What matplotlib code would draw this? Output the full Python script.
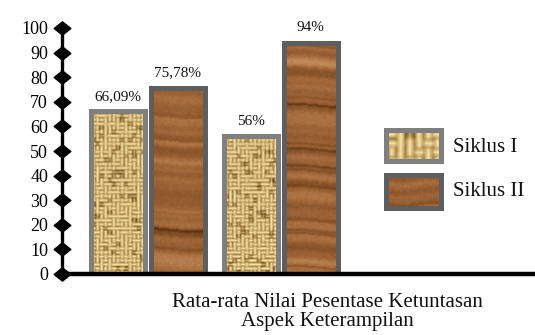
import numpy as np
import matplotlib
matplotlib.use("Agg")
import matplotlib.pyplot as plt
from matplotlib.path import Path

# ---- data ----
series_names = ["Siklus I", "Siklus II"]
siklus_1 = [66.09, 56.0]
siklus_2 = [75.78, 94.0]
y_ticks = list(range(0, 101, 10))
x_title = "Rata-rata Nilai Pesentase Ketuntasan\nAspek Keterampilan"

plt.rcParams["font.family"] = ["Liberation Serif", "DejaVu Serif"]

W, H = 535, 335
fig = plt.figure(figsize=(W / 100, H / 100), dpi=100)
fig.patch.set_facecolor("white")


def fig_box(x0, y0, x1, y1):
    """pixel box (top-left origin) -> figure fraction rect"""
    return [x0 / W, 1 - y1 / H, (x1 - x0) / W, (y1 - y0) / H]


# ---- procedural textures ----
def lerp_colors(t, stops):
    t = np.clip(t, 0, 1)
    pos = np.linspace(0, 1, len(stops))
    out = np.zeros(t.shape + (3,))
    for c in range(3):
        out[..., c] = np.interp(t, pos, [s[c] for s in stops])
    return out / 255.0


def soften(a, k=3):
    ker = np.ones(k) / k
    a = np.apply_along_axis(lambda r: np.convolve(r, ker, mode="same"), 0, a)
    a = np.apply_along_axis(lambda r: np.convolve(r, ker, mode="same"), 1, a)
    return a


def wood_texture(h, w, seed):
    rng = np.random.default_rng(seed)
    pad = 40
    n = rng.normal(size=h + pad)
    k = np.exp(-np.linspace(-2, 2, 15) ** 2)
    k /= k.sum()
    prof = np.convolve(n, k, mode="same")
    prof /= prof.std() + 1e-9
    streak = np.zeros(h + pad)
    idx = rng.choice(h + pad, size=(h + pad) // 17, replace=False)
    streak[idx] = rng.uniform(0.4, 1.0, size=len(idx))
    streak = np.convolve(streak, [0.4, 1.0, 0.4], mode="same")
    y = np.arange(h)[:, None]
    x = np.arange(w)[None, :]
    wave = 1.5 * np.sin(x / w * 2 * np.pi * rng.uniform(0.4, 1.0) + rng.uniform(0, 6))
    yy = np.clip((y + pad // 2 + wave).astype(int), 0, h + pad - 1)
    t = 0.58 + 0.12 * prof[yy] - 0.38 * streak[yy] + 0.05 * rng.normal(size=(h, w))
    t += 0.04 * np.sin(x / w * np.pi)
    t = soften(t, 2)
    stops = [(85, 45, 15), (130, 78, 36), (162, 104, 58), (192, 138, 88)]
    return lerp_colors(t, stops)


def burlap_texture(h, w, seed, cell=4):
    rng = np.random.default_rng(seed)
    nr, nc = h // cell + 2, w // cell + 2
    base = np.add.outer(np.arange(nr), np.arange(nc)) % 2
    orient = np.where(rng.random((nr, nc)) < 0.7, base, 1 - base)
    yi = np.arange(h)
    xi = np.arange(w)
    ly = (yi % cell + 0.5) / cell
    lx = (xi % cell + 0.5) / cell
    fy = 1 - 1.3 * (2 * (ly - 0.5)) ** 2
    fx = 1 - 1.3 * (2 * (lx - 0.5)) ** 2
    o = orient[(yi // cell)[:, None], (xi // cell)[None, :]]
    t = np.where(o == 1, fy[:, None] * np.ones((1, w)), np.ones((h, 1)) * fx[None, :])
    dark = rng.random((nr, nc)) < 0.1
    t = t - 0.4 * dark[(yi // cell)[:, None], (xi // cell)[None, :]]
    t += 0.08 * rng.normal(size=(h, w))
    t = 0.12 + 0.95 * soften(t, 2)
    stops = [(92, 62, 24), (160, 126, 68), (210, 180, 118), (245, 228, 168)]
    return lerp_colors(t, stops)


# ---- main axes ----
px_per_unit = 2.46
y_top = 101
ax_bottom_px = 274
ax = fig.add_axes(fig_box(62, ax_bottom_px - y_top * px_per_unit, W, ax_bottom_px))
ax.set_ylim(0, y_top)
group_px = 133.0
x_left = -(148 - 62) / group_px
ax.set_xlim(x_left, x_left + (W - 62) / group_px)
ax.set_facecolor("none")

groups = np.arange(len(siklus_1))
offset = 0.225
bar_w = 0.41
edge_colors = ["#7f7f7f", "#5e5e5e"]
textures = [burlap_texture, wood_texture]

tex_h = int(y_top * px_per_unit)
tex_w = int(bar_w * group_px)


def fmt(v):
    return f"{v:.2f}".rstrip("0").rstrip(".").replace(".", ",") + "%"


for si, (vals, sign) in enumerate([(siklus_1, -1), (siklus_2, 1)]):
    xs = groups + sign * offset
    bars = ax.bar(xs, vals, width=bar_w, facecolor="none",
                  edgecolor=edge_colors[si], linewidth=3.6, zorder=3)
    for bi, (rect, v) in enumerate(zip(bars, vals)):
        tex = textures[si](tex_h, tex_w, seed=10 * si + bi + 1)
        x0 = rect.get_x()
        im = ax.imshow(tex, extent=[x0, x0 + bar_w, 0, y_top], aspect="auto",
                       interpolation="bilinear", zorder=2)
        im.set_clip_path(rect)
        ax.annotate(fmt(v), (rect.get_x() + bar_w / 2, v), xytext=(0, 6),
                    textcoords="offset points", ha="center", va="bottom",
                    fontsize=11, color="#111111")

# axes styling
for side in ("top", "right"):
    ax.spines[side].set_visible(False)
ax.spines["left"].set_linewidth(2.4)
ax.spines["bottom"].set_linewidth(3.2)
ax.spines["left"].set_zorder(6)
ax.spines["bottom"].set_zorder(6)
ax.set_xticks([])
ax.set_yticks(y_ticks)
ax.set_yticklabels([str(t) for t in y_ticks], fontsize=13)
ax.tick_params(axis="y", length=0, pad=10)

# diamond tick markers on the value axis
diamond = Path([(-1, 0), (0, 0.8), (1, 0), (0, -0.8), (-1, 0)],
               [Path.MOVETO, Path.LINETO, Path.LINETO, Path.LINETO, Path.CLOSEPOLY])
ax.plot([0] * len(y_ticks), y_ticks, linestyle="none", marker=diamond,
        markersize=12, color="black", transform=ax.get_yaxis_transform(),
        clip_on=False, zorder=7)

# category axis title
fig.text(327 / W, 1 - 312 / H, x_title, ha="center", va="center",
         fontsize=15, linespacing=1.0, color="#111111")

# legend swatches
legend_boxes = [(383, 127, 443, 163), (383, 172, 443, 210)]
legend_text_y = [147, 192]
swatch_sizes = [(14, 24), (30, 55)]
for si, (bx0, by0, bx1, by1) in enumerate(legend_boxes):
    lax = fig.add_axes(fig_box(bx0 + 2.5, by0 + 2.5, bx1 - 2.5, by1 - 2.5))
    lax.imshow(textures[si](*swatch_sizes[si], seed=50 + si),
               aspect="auto", interpolation="bilinear")
    lax.set_xticks([])
    lax.set_yticks([])
    for sp in lax.spines.values():
        sp.set_edgecolor(edge_colors[si])
        sp.set_linewidth(3.6)
    fig.text(453 / W, 1 - legend_text_y[si] / H, series_names[si],
             ha="left", va="center", fontsize=15, color="#111111")

fig.savefig("out.png", dpi=100)
